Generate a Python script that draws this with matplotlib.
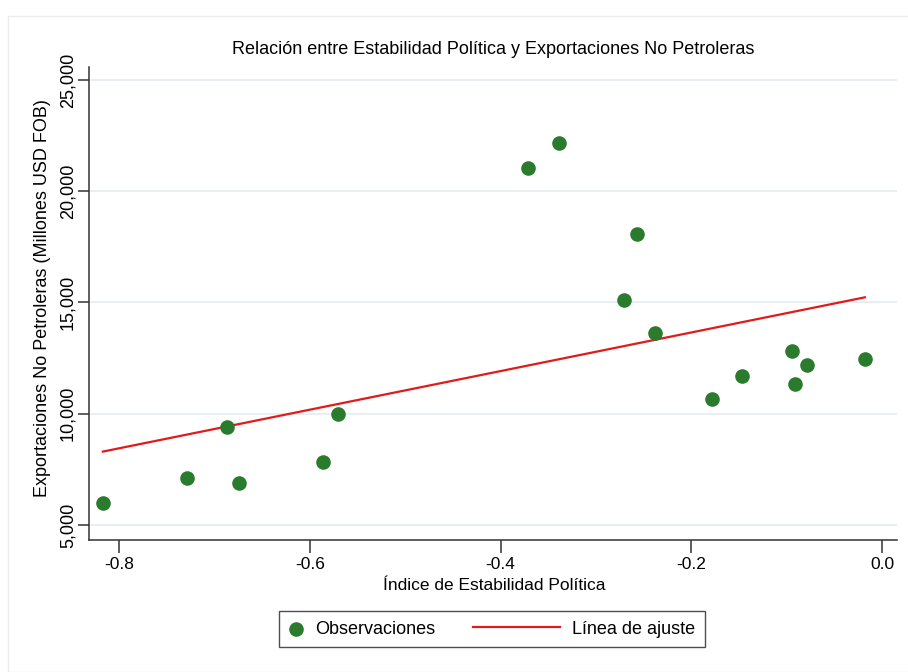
## Scatter + linear fit : Estabilidad Politica vs Exportaciones No Petroleras ##
import numpy as np
import matplotlib.pyplot as plt
from matplotlib.patches import Rectangle
from matplotlib.ticker import FuncFormatter
from matplotlib.legend_handler import HandlerLine2D

##############################################################################
############################     Data     ####################################
##############################################################################
estabilidad = [-0.817, -0.729, -0.687, -0.674, -0.586, -0.570, -0.371, -0.339,
               -0.257, -0.271, -0.238, -0.178, -0.147, -0.094, -0.079, -0.091,
               -0.018]
exportaciones = [5990, 7110, 9390, 6880, 7830, 9980, 21050, 22170,
                 18090, 15090, 13650, 10650, 11680, 12800, 12170, 11320,
                 12440]

x_ticks = [-0.8, -0.6, -0.4, -0.2, 0.0]
y_ticks = [5000, 10000, 15000, 20000, 25000]

titulo = 'Relación entre Estabilidad Política y Exportaciones No Petroleras'
x_label = 'Índice de Estabilidad Política'
y_label = 'Exportaciones No Petroleras (Millones USD FOB)'

##############################################################################
############################     Figure     ##################################
##############################################################################
W, H = 908, 672
fig = plt.figure(figsize=(W/100, H/100), dpi=100)
font = 'Liberation Sans'

# faint outer frame (graph region)
fig.patches.append(Rectangle((8/W, 0), 1, 1 - 16/H, transform=fig.transFigure,
                             fill=False, ec='#ececec', lw=1))

ax = fig.add_axes([89/W, 1 - 540/H, (897-89)/W, (540-67)/H])

x = np.array(estabilidad)
y = np.array(exportaciones)

# gridlines
for yt in y_ticks:
    ax.axhline(yt, color='#e9eef3', lw=1.5, zorder=0)

ax.scatter(x, y, s=90, color='#2a7b2e', zorder=3, label='Observaciones')

# linear fit
b, a = np.polyfit(x, y, 1)
xf = np.array([x.min(), x.max()])
ax.plot(xf, a + b*xf, color='#e01b1b', lw=1.6, zorder=2, label='Línea de ajuste')

ax.set_xlim(-0.8315, 0.0157)
ax.set_ylim(4330, 25580)

for s in ['top', 'right']:
    ax.spines[s].set_visible(False)
for s in ['left', 'bottom']:
    ax.spines[s].set_color('#333333')
    ax.spines[s].set_linewidth(1.1)

ax.set_xticks(x_ticks)
ax.set_xticklabels(['%.1f' % v for v in x_ticks], fontfamily=font, fontsize=12.5)
ax.set_yticks(y_ticks)
ax.yaxis.set_major_formatter(FuncFormatter(lambda v, p: '{:,.0f}'.format(v)))
for lab in ax.get_yticklabels():
    lab.set_rotation(90)
    lab.set_va('center')
    lab.set_fontfamily(font)
    lab.set_fontsize(13)
ax.tick_params(axis='x', length=9, width=1.1, color='#333333', pad=3)
ax.tick_params(axis='y', length=8, width=1.1, color='#333333', pad=1)

fig.text(493/W, 1 - 50/H, titulo, ha='center', va='center',
         fontfamily=font, fontsize=13)
fig.text(494/W, 1 - 585/H, x_label, ha='center', va='center',
         fontfamily=font, fontsize=12.5)
fig.text(43/W, 1 - 298/H, y_label, ha='center', va='center', rotation=90,
         fontfamily=font, fontsize=13)


# the fit key is drawn longer than the marker key, as in the original legend
class LongLine(HandlerLine2D):
    def create_artists(self, legend, orig_handle, xdescent, ydescent,
                       width, height, fontsize, trans):
        arts = super().create_artists(legend, orig_handle, xdescent, ydescent,
                                      width, height, fontsize, trans)
        ln = arts[0]
        yd = ln.get_ydata()
        ln.set_data([width - 4.8*fontsize, width], [yd[0], yd[0]])
        return arts


handles, labels = ax.get_legend_handles_labels()
leg = fig.legend(handles, labels, loc='center',
                 bbox_to_anchor=(492/W, 1 - 629/H), ncol=2,
                 frameon=True, fancybox=False, prop={'family': font, 'size': 13},
                 handlelength=0.8, handletextpad=0.65, columnspacing=6.1,
                 borderpad=0.55, scatterpoints=1,
                 handler_map={handles[1]: LongLine()})
leg.get_frame().set_edgecolor('#222222')
leg.get_frame().set_linewidth(1.0)

fig.savefig('out.png', dpi=100)
